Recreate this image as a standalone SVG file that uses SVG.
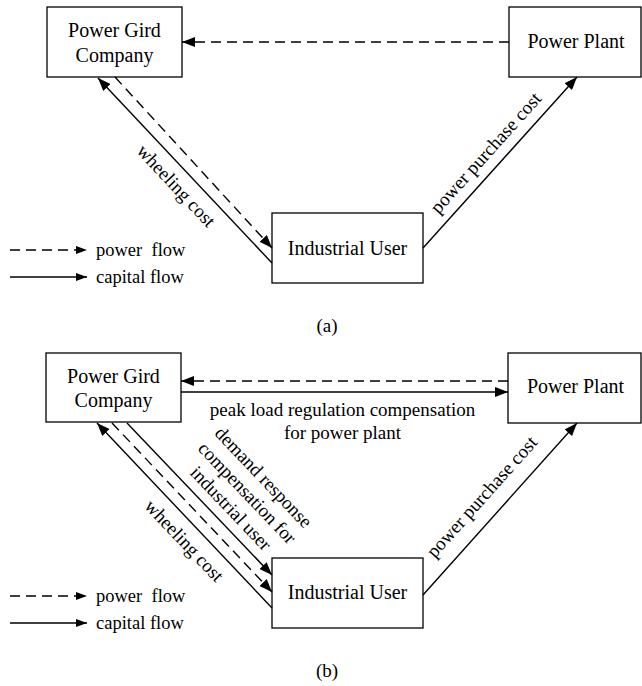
<svg xmlns="http://www.w3.org/2000/svg" width="642" height="686" viewBox="0 0 642 686">
<defs>
<marker id="arr" markerUnits="userSpaceOnUse" markerWidth="13" markerHeight="10" refX="13" refY="5" orient="auto">
<path d="M0,0 L13,5 L0,10 z" fill="#000"/>
</marker>
<marker id="arrS" markerUnits="userSpaceOnUse" markerWidth="11" markerHeight="8" refX="11" refY="4" orient="auto">
<path d="M0,0 L11,4 L0,8 z" fill="#000"/>
</marker>
</defs>
<style>
rect{fill:#fff;stroke:#000;stroke-width:1.3}
text{font-family:"Liberation Serif","Times New Roman",serif;fill:#000}
.n{font-size:20px;text-anchor:middle}
.l{font-size:19px;text-anchor:middle}
.g{font-size:18.5px}
.c{stroke:#000;stroke-width:1.4;fill:none;marker-end:url(#arr)}
.d{stroke-dasharray:10,6}
.s{stroke:#000;stroke-width:1.4;fill:none;marker-end:url(#arrS)}
</style>
<rect width="642" height="686" style="fill:#fff;stroke:none"/>

<!-- Panel (a) -->
<g id="a-grid"><rect x="47" y="7" width="135" height="70"/><text class="n" x="114.5" y="37">Power Gird</text><text class="n" x="114.5" y="62">Company</text></g>
<g id="a-plant"><rect x="509" y="7" width="132" height="70"/><text class="n" x="576" y="48">Power Plant</text></g>
<g id="a-user"><rect x="272" y="213" width="151" height="70"/><text class="n" x="347.5" y="255">Industrial User</text></g>

<g id="a-connectors">
<line class="c d" x1="509" y1="42" x2="182" y2="42"/>
<line class="c" x1="272" y1="263" x2="98" y2="78"/>
<line class="c d" x1="115" y1="77" x2="272" y2="248"/>
<line class="c" x1="423" y1="248" x2="577" y2="77"/>
</g>
<g id="a-labels">
<text class="l" transform="translate(176,186) rotate(46.8)" x="0" y="6">wheeling cost</text>
<text class="l" transform="translate(486,153) rotate(-48)" x="0" y="6">power purchase cost</text>
</g>
<g id="a-legend">
<line class="s d" x1="10" y1="250" x2="87" y2="250"/>
<line class="s" x1="10" y1="277" x2="87" y2="277"/>
<text class="g" x="96" y="256" xml:space="preserve">power  flow</text>
<text class="g" x="96" y="283">capital flow</text>
</g>
<text id="cap-a" class="n" x="327" y="332" style="font-size:19px">(a)</text>

<!-- Panel (b) -->
<g id="b-grid"><rect x="46" y="353" width="135" height="69"/><text class="n" x="113.5" y="383">Power Gird</text><text class="n" x="113.5" y="407">Company</text></g>
<g id="b-plant"><rect x="508" y="353" width="133" height="70"/><text class="n" x="575.5" y="393">Power Plant</text></g>
<g id="b-user"><rect x="272" y="558" width="151" height="70"/><text class="n" x="347.5" y="599">Industrial User</text></g>

<g id="b-connectors">
<line class="c d" x1="508" y1="381" x2="181" y2="381"/>
<line class="c" x1="181" y1="392" x2="508" y2="392"/>
<line class="c" x1="272" y1="608" x2="97" y2="423"/>
<line class="c d" x1="112" y1="423" x2="272" y2="592"/>
<line class="c" x1="127" y1="423" x2="272" y2="575"/>
<line class="c" x1="423" y1="595" x2="577" y2="423"/>
</g>
<g id="b-labels">
<text class="l" x="342.5" y="416">peak load regulation compensation</text>
<text class="l" x="342.5" y="439">for power plant</text>
<text class="l" transform="translate(184,541) rotate(46.4)" x="0" y="6">wheeling cost</text>
<g transform="translate(247,493) rotate(46.4)">
<text class="l" x="0" y="-16.5">demand response</text>
<text class="l" x="0" y="6">compensation for</text>
<text class="l" x="0" y="28.5">industrial user</text>
</g>
<text class="l" transform="translate(482,497) rotate(-48.2)" x="0" y="6">power purchase cost</text>
</g>
<g id="b-legend">
<line class="s d" x1="10" y1="596" x2="87" y2="596"/>
<line class="s" x1="10" y1="623" x2="87" y2="623"/>
<text class="g" x="96" y="602" xml:space="preserve">power  flow</text>
<text class="g" x="96" y="629">capital flow</text>
</g>
<text id="cap-b" class="n" x="327" y="677" style="font-size:19px">(b)</text>
</svg>
